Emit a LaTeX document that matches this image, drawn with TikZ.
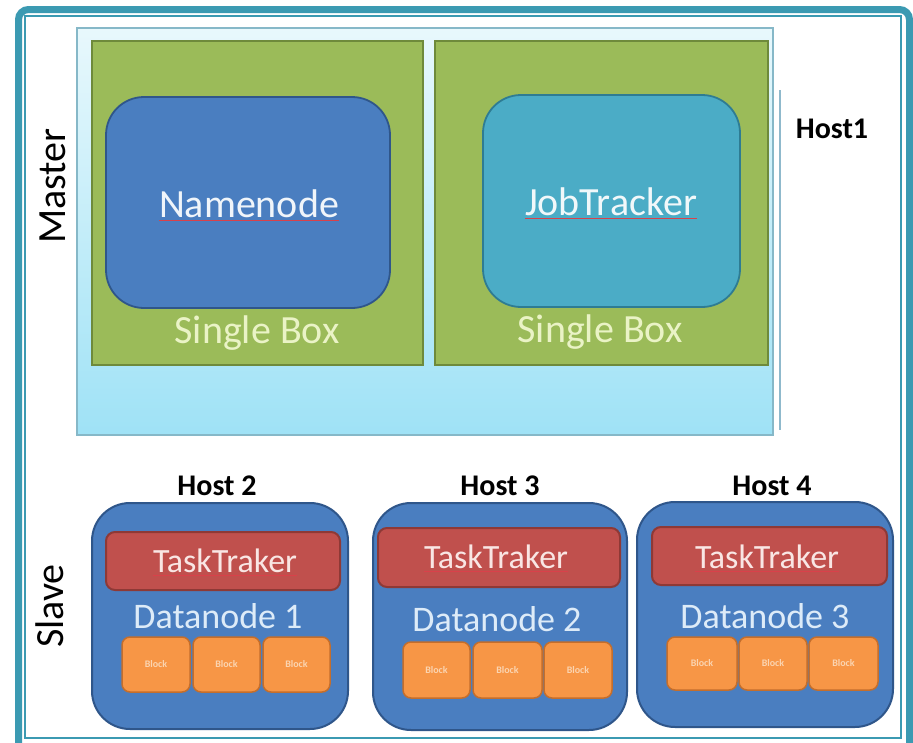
\documentclass[tikz,border=0pt]{standalone}
\usepackage{fontspec}
\setmainfont{Carlito}
\definecolor{frame}{HTML}{3B9AB2}
\definecolor{cytop}{HTML}{E8F8FC}
\definecolor{cybot}{HTML}{9FE2F6}
\definecolor{cyedge}{HTML}{86B8C8}
\definecolor{grn}{HTML}{9BBB59}
\definecolor{grnedge}{HTML}{6E8A3B}
\definecolor{nnblue}{HTML}{4A7EC0}
\definecolor{nnedge}{HTML}{2F568A}
\definecolor{jtblue}{HTML}{4BACC6}
\definecolor{jtedge}{HTML}{2E7C93}
\definecolor{redbox}{HTML}{C0504D}
\definecolor{rededge}{HTML}{8E3936}
\definecolor{org}{HTML}{F79646}
\definecolor{orgedge}{HTML}{C46E2C}
\definecolor{paleg}{HTML}{EAF3C6}
\definecolor{paleb}{HTML}{DDEBF8}
\definecolor{palered}{HTML}{F9E6E4}
\definecolor{paleorg}{HTML}{FBD4B0}
\definecolor{squigcol}{HTML}{D9414A}
\definecolor{shadowline}{HTML}{8FB9CC}
\newcommand{\boxat}[6]{\node[#1, minimum width={#5-#3}, minimum height={#6-#4}] (#2) at ({(#3+#5)/2},{(#4+#6)/2}) {};}
\newcommand{\blkat}[6]{\node[#1, minimum width={#5-#3}, minimum height={#6-#4}] (#2) at ({(#3+#5)/2},{(#4+#6)/2}) {Block};}
\tikzset{
  every node/.style={inner sep=0pt, outer sep=0pt},
  masterbox/.style={draw=cyedge, line width=1.5pt, top color=cytop, bottom color=cybot, rectangle},
  greenbox/.style={draw=grnedge, line width=1.5pt, fill=grn, rectangle},
  nnbox/.style={draw=nnedge, line width=1.8pt, fill=nnblue, rectangle, rounded corners=38pt},
  jtbox/.style={draw=jtedge, line width=1.8pt, fill=jtblue, rectangle, rounded corners=38pt},
  slavebox/.style={draw=nnedge, line width=2pt, fill=nnblue, rectangle, rounded corners=38pt},
  ttbox/.style={draw=rededge, line width=2pt, fill=redbox, rectangle, rounded corners=9pt},
  blkbox/.style={draw=orgedge, line width=1.5pt, fill=org, rectangle, rounded corners=8pt, text=paleorg, font=\fontsize{10}{10}\selectfont\bfseries},
  bigtxt/.style={anchor=base, font=\fontsize{40}{40}\selectfont},
  midtxt/.style={anchor=base, font=\fontsize{34}{34}\selectfont},
  dntxt/.style={anchor=base, font=\fontsize{36}{36}\selectfont},
  hosttxt/.style={anchor=base, font=\fontsize{30}{30}\selectfont\bfseries, text=black},
  sidetxt/.style={rotate=90, font=\fontsize{40}{40}\selectfont, text=black},
  squig/.style={draw=squigcol, line width=0.9pt}
}
\begin{document}
\begin{tikzpicture}[x=1pt,y=-1pt]
\clip (0,0) rectangle (913,742);
\fill[white] (0,0) rectangle (913,742);
% frame
\draw[frame, line width=7pt, rounded corners=10pt] (18.5,9.5) rectangle (909.5,770);
\draw[frame, line width=2pt] (25,16) rectangle (900.5,737.5);
% master container
\boxat{masterbox}{master}{77}{28}{773}{435}
\draw[shadowline, line width=1.5pt] (780,90) -- (780,430);
\boxat{greenbox}{g1}{92}{41}{423}{365}
\boxat{greenbox}{g2}{435}{41}{768}{365}
\boxat{nnbox}{nn}{106}{97}{390}{308}
\boxat{jtbox}{jt}{483}{95}{740}{307}
\node[bigtxt, text=white!92!nnblue] (nnt) at (249,217) {Namenode};
\node[bigtxt, text=white!92!jtblue] (jtt) at (611,215) {JobTracker};
\draw[squig] ([yshift=-3pt]nnt.base west) -- ([yshift=-3pt]nnt.base east);
\draw[squig] ([yshift=-3pt]jtt.base west) -- ([yshift=-3pt]jtt.base east);
\node[bigtxt, text=paleg] (sb1) at (257,343) {Single Box};
\node[bigtxt, text=paleg] (sb2) at (600,342) {Single Box};
\node[hosttxt] (h1) at (832,138) {Host1};
\node[sidetxt] (mst) at (53,186) {Master};
\node[sidetxt] (slv) at (50,606) {Slave};
% slaves
\node[hosttxt] (h2) at (217,495) {Host 2};
\node[hosttxt] (h3) at (500,495) {Host 3};
\node[hosttxt] (h4) at (772,495) {Host 4};
\boxat{slavebox}{s2}{92}{503}{348}{729}
\boxat{slavebox}{s3}{373}{503}{627}{730}
\boxat{slavebox}{s4}{637}{502}{893}{727}
\boxat{ttbox}{t2}{106}{532}{340}{590}
\boxat{ttbox}{t3}{378}{528}{620}{587}
\boxat{ttbox}{t4}{652}{527}{887}{585}
\node[midtxt, text=palered] (tt2) at (225,572) {TaskTraker};
\node[midtxt, text=palered] (tt3) at (496,568) {TaskTraker};
\node[midtxt, text=palered] (tt4) at (767,568) {TaskTraker};
\draw[squig] ([yshift=-3pt]tt2.base west) -- ([yshift=-3pt]tt2.base east);
\draw[squig] ([yshift=-3pt]tt3.base west) -- ([yshift=-3pt]tt3.base east);
\draw[squig] ([yshift=-3pt]tt4.base west) -- ([yshift=-3pt]tt4.base east);
\node[dntxt, text=paleb] (d1) at (218,628) {Datanode 1};
\node[dntxt, text=paleb] (d2) at (497,631) {Datanode 2};
\node[dntxt, text=paleb] (d3) at (765,628) {Datanode 3};
\blkat{blkbox}{b21}{122}{637}{190}{692}
\blkat{blkbox}{b22}{193}{637}{260}{692}
\blkat{blkbox}{b23}{263}{637}{330}{692}
\blkat{blkbox}{b31}{403}{642}{470}{698}
\blkat{blkbox}{b32}{473}{642}{542}{698}
\blkat{blkbox}{b33}{544}{642}{612}{698}
\blkat{blkbox}{b41}{667}{637}{737}{690}
\blkat{blkbox}{b42}{739}{637}{807}{690}
\blkat{blkbox}{b43}{809}{637}{878}{690}
\end{tikzpicture}
\end{document}
